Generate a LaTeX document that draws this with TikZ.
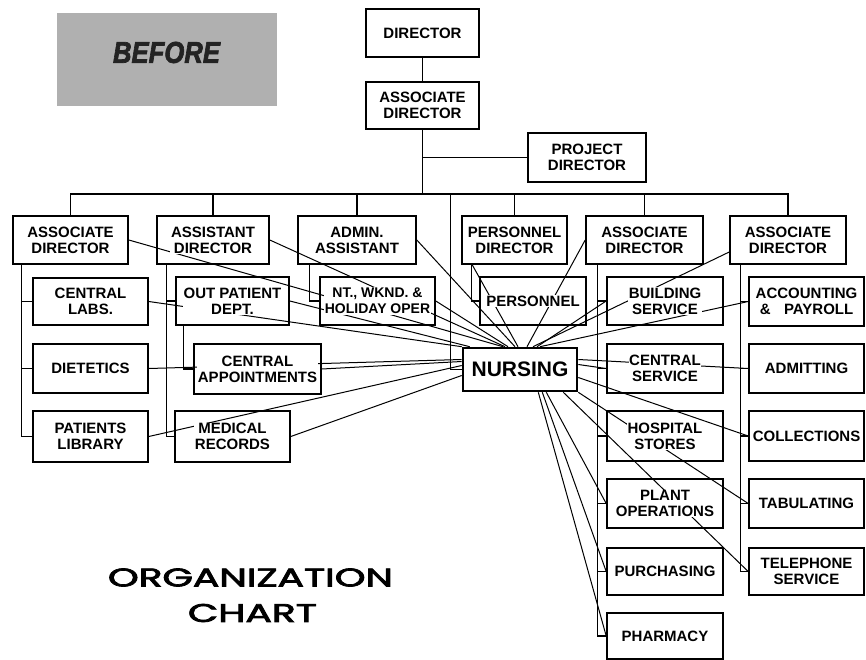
\documentclass[tikz,border=0pt]{standalone}
\usepackage{graphicx}
\usepackage{fontspec}
\setmainfont{Liberation Sans}
\newfontfamily\orgfont[FakeBold=2.6]{Poppins}
\newfontfamily\beffont[FakeBold=2.5]{Liberation Sans Bold Italic}
\usetikzlibrary{calc}
\pgfdeclarelayer{bg}
\pgfsetlayers{bg,main}
\definecolor{befgray}{RGB}{176,176,176}
\definecolor{befdark}{RGB}{35,35,35}
\tikzset{
  bx/.style={draw, line width=1.6pt, inner sep=0pt},
  txt/.style={font=\bfseries\fontsize{15}{16}\selectfont, align=center, fill=white, inner sep=0.6pt},
  orgline/.style={line width=1.4pt},
  rel/.style={line width=1pt},
}
\newcommand\mybox[6][]{%
  \node[bx, minimum width=#4pt, minimum height=#5pt] (#2) at (#3) {};
  \node[txt,#1] (#2t) at (#2.center) {#6};}
\begin{document}
\begin{tikzpicture}[x=1pt,y=-1pt]
\useasboundingbox (0,0) rectangle (866,660);
% BEFORE label
\node[fill=befgray, minimum width=220pt, minimum height=93pt, inner sep=0pt] (bef) at (167,59.5) {};
\node[text=befdark, inner sep=0pt] (beft) at (166.5,52.5) {\resizebox{107pt}{21pt}{\beffont BEFORE}};
% top
\mybox{dir}{422.5,33}{113}{48}{DIRECTOR}
\mybox{ad0}{422.5,105.5}{113}{47}{ASSOCIATE\\DIRECTOR}
\mybox{proj}{587,157.5}{118}{49}{PROJECT\\DIRECTOR}
% second row
\mybox{ad1}{70.5,240}{115}{48}{ASSOCIATE\\DIRECTOR}
\mybox{asst}{213,240}{112}{48}{ASSISTANT\\DIRECTOR}
\mybox{admin}{357,240}{118}{48}{ADMIN.\\ASSISTANT}
\mybox{pdir}{514.5,240}{105}{48}{PERSONNEL\\DIRECTOR}
\mybox{ad2}{644.5,240}{117}{48}{ASSOCIATE\\DIRECTOR}
\mybox{ad3}{788,240}{116}{48}{ASSOCIATE\\DIRECTOR}
% column 1
\mybox{labs}{90.5,301.5}{115}{47}{CENTRAL\\LABS.}
\mybox{diet}{90.5,368.5}{115}{49}{DIETETICS}
\mybox{plib}{90.5,436.5}{115}{51}{PATIENTS\\LIBRARY}
% column 2
\mybox{opd}{232.5,301}{113}{48}{OUT PATIENT\\DEPT.}
\mybox{capp}{257.5,369}{127}{50}{CENTRAL\\APPOINTMENTS}
\mybox{medr}{232.5,436.5}{115}{51}{MEDICAL\\RECORDS}
% column 3, 4
\mybox[font=\bfseries\fontsize{14}{16}\selectfont]{nt}{377.5,301}{115}{48}{NT., WKND. \&\\HOLIDAY OPER}
\mybox{pers}{533,301}{106}{48}{PERSONNEL}
% nursing
\node[draw, line width=2.6pt, minimum width=114pt, minimum height=43pt, inner sep=0pt] (nurs) at (520,369.5) {};
\node[txt, font=\bfseries\fontsize{21}{22}\selectfont] (nurst) at (nurs.center) {NURSING};
% column 5
\mybox{bld}{665,301}{116}{48}{BUILDING\\SERVICE}
\mybox{csv}{665,368.5}{116}{49}{CENTRAL\\SERVICE}
\mybox{hst}{665,436}{116}{50}{HOSPITAL\\STORES}
\mybox{plant}{665,503.5}{116}{49}{PLANT\\OPERATIONS}
\mybox{purch}{665,571.5}{116}{47}{PURCHASING}
\mybox{pharm}{665,636}{116}{46}{PHARMACY}
% column 6
\mybox{acct}{806.5,301.5}{115}{49}{ACCOUNTING\\\&\hspace{0.9em}PAYROLL}
\mybox{admt}{806.5,368.5}{115}{49}{ADMITTING}
\mybox{coll}{806.5,436}{115}{50}{COLLECTIONS}
\mybox{tab}{806.5,503.5}{115}{49}{TABULATING}
\mybox{tel}{806.5,571.5}{115}{47}{TELEPHONE\\SERVICE}
% title
\node[inner sep=0pt] (org1) at (250.5,577.5) {\resizebox{285pt}{18pt}{\orgfont ORGANIZATION}};
\node[inner sep=0pt] (org2) at (252.5,613) {\resizebox{129pt}{18pt}{\orgfont CHART}};
\begin{pgfonlayer}{bg}
  \fill[white] (0,0) rectangle (866,660);
  % hierarchy
  \draw[orgline] (dir) -- (ad0);
  \coordinate (busL) at ([yshift=21pt]ad1.north);
  \draw[orgline] (ad0.south) -- (ad0.south |- busL);
  \draw[orgline] (ad0.south |- proj.west) -- (proj.west);
  \draw[orgline] (ad1.north) -- (busL) -| (ad3.north);
  \foreach \n in {asst,admin,pdir,ad2} \draw[orgline] (\n.north) -- (\n.north |- busL);
  \coordinate (nstub) at ([xshift=-11pt]nurs.west);
  \draw[orgline] (nstub |- busL) -- (nstub) -- (nurs.west);
  \coordinate (c1) at ([xshift=9pt]ad1.south west);
  \draw[orgline] (c1) |- (labs.west) (c1) |- (diet.west) (c1) |- (plib.west);
  \coordinate (c2) at ([xshift=10pt]asst.south west);
  \draw[orgline] (c2) |- (opd.west) (c2) |- (medr.west);
  \coordinate (c2b) at ([xshift=8pt]opd.south west);
  \draw[orgline] (c2b) |- (capp.west);
  \coordinate (c3) at ([xshift=12pt]admin.south west);
  \draw[orgline] (c3) |- (nt.west);
  \coordinate (c4) at ([xshift=10pt]pdir.south west);
  \draw[orgline] (c4) |- (pers.west);
  \coordinate (c5) at ([xshift=12pt]ad2.south west);
  \draw[orgline] (c5) |- (bld.west) (c5) |- (csv.west) (c5) |- (hst.west)
                 (c5) |- (plant.west) (c5) |- (purch.west) (c5) |- (pharm.west);
  \coordinate (c6) at ([xshift=11pt]ad3.south west);
  \draw[orgline] (c6) |- (acct.west) (c6) |- (admt.west) (c6) |- (coll.west)
                 (c6) |- (tab.west) (c6) |- (tel.west);
  % lines to nursing
  \draw[rel] (ad1.east) -- ([xshift=-17pt]nurs.north);
  \draw[rel] (asst.east) -- ([xshift=-15pt]nurs.north);
  \draw[rel] (admin.east) -- ([xshift=-5pt]nurs.north);
  \draw[rel] (labs.east) -- (nurs.north west);
  \draw[rel] (opd.east) -- ([xshift=8pt]nurs.north west);
  \draw[rel] (nt.east) -- ([xshift=-12pt]nurs.north);
  \draw[rel] (diet.east) -- ([yshift=10pt]nurs.west);
  \draw[rel] (capp.east) -- ([yshift=8pt]nurs.west);
  \draw[rel] (plib.east) -- ([yshift=4pt]nurs.west);
  \draw[rel] (medr.east) -- ([yshift=-6pt]nurs.west);
  \draw[rel] ([xshift=11pt]pdir.south west) -- ([xshift=-2pt]nurs.north);
  \draw[rel] (ad2.west) -- ([xshift=7pt]nurs.north);
  \draw[rel] ([yshift=-12pt]ad3.west) -- ([xshift=13pt]nurs.north);
  \draw[rel] (bld.west) -- ([xshift=17pt]nurs.north);
  \draw[rel] (acct.west) -- ([xshift=20pt]nurs.north);
  \draw[rel] (admt.west) -- ([yshift=10pt]nurs.east);
  \draw[rel] (csv.west) -- ([yshift=5pt]nurs.east);
  \draw[rel] (coll.west) -- ([yshift=-8pt]nurs.east);
  \draw[rel] (tab.west) -- (nurs.south east);
  \draw[rel] (tel.west) -- ([xshift=-15pt]nurs.south east);
  \draw[rel] (plant.west) -- ([xshift=-32pt]nurs.south east);
  \draw[rel] (purch.west) -- ([xshift=-36pt]nurs.south east);
  \draw[rel] (pharm.west) -- ([xshift=-40pt]nurs.south east);
\end{pgfonlayer}
\end{tikzpicture}
\end{document}
